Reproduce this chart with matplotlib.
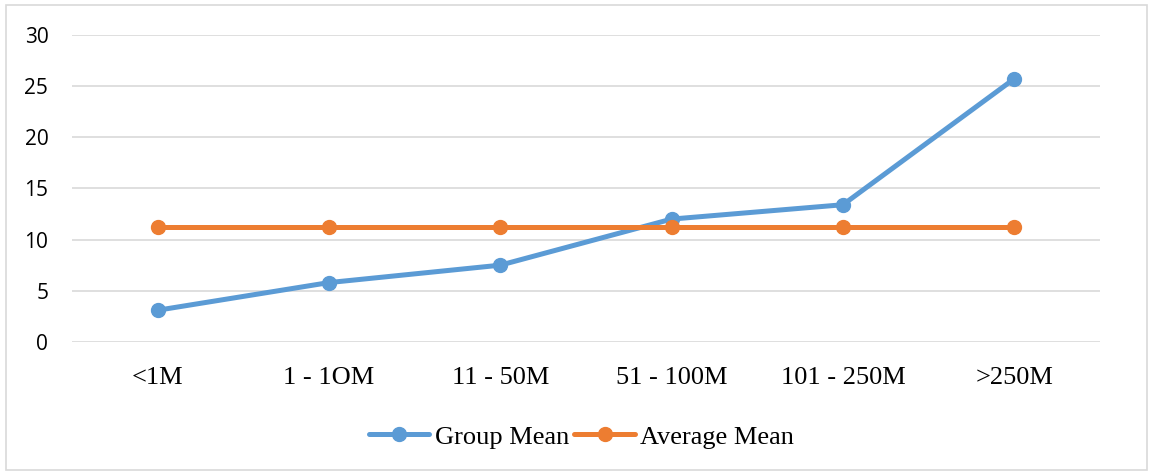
import matplotlib.pyplot as plt
from matplotlib.patches import Rectangle

categories = ['<1M', '1 - 1OM', '11 - 50M', '51 - 100M', '101 - 250M', '>250M']
group_mean = [3.1, 5.8, 7.5, 12.0, 13.4, 25.7]
average_mean = [11.25, 11.25, 11.25, 11.25, 11.25, 11.25]
y_ticks = [0, 5, 10, 15, 20, 25, 30]

if __name__ == '__main__':
    fig = plt.figure(figsize=(11.53, 4.74), dpi=100)
    ax = fig.add_axes([0.0624, 0.2785, 0.8916, 0.6483])

    x = range(len(categories))
    ax.plot(x, group_mean, color='#5B9BD5', lw=3.6, marker='o', ms=10,
            label='Group Mean', solid_capstyle='round', zorder=3)
    ax.plot(x, average_mean, color='#ED7D31', lw=3.6, marker='o', ms=10,
            label='Average Mean', solid_capstyle='round', zorder=3)

    ax.set_xlim(-0.5, len(categories) - 0.5)
    ax.set_ylim(0, 30)
    ax.set_yticks(y_ticks)
    ax.set_xticks(list(x))
    ax.set_xticklabels(categories, family='Liberation Serif', fontsize=19)
    for t in ax.get_yticklabels():
        t.set_family('Open Sans')
        t.set_fontsize(15)
    ax.tick_params(length=0, pad=17, axis='y')
    ax.tick_params(length=0, pad=18, axis='x')
    ax.grid(axis='y', color='#D9D9D9', lw=1.2)
    ax.set_axisbelow(True)
    for s in ax.spines.values():
        s.set_visible(False)

    ax.legend(loc='center', bbox_to_anchor=(0.4955, -0.309), ncol=2, frameon=False,
              prop={'family': 'Liberation Serif', 'size': 19},
              handlelength=2.3, handletextpad=0.2, columnspacing=0.2)

    fig.patches.append(Rectangle((0.005, 0.008), 0.99, 0.982, transform=fig.transFigure,
                                 fill=False, edgecolor='#D9D9D9', lw=1.2))

    plt.savefig('out.png', dpi=100)
